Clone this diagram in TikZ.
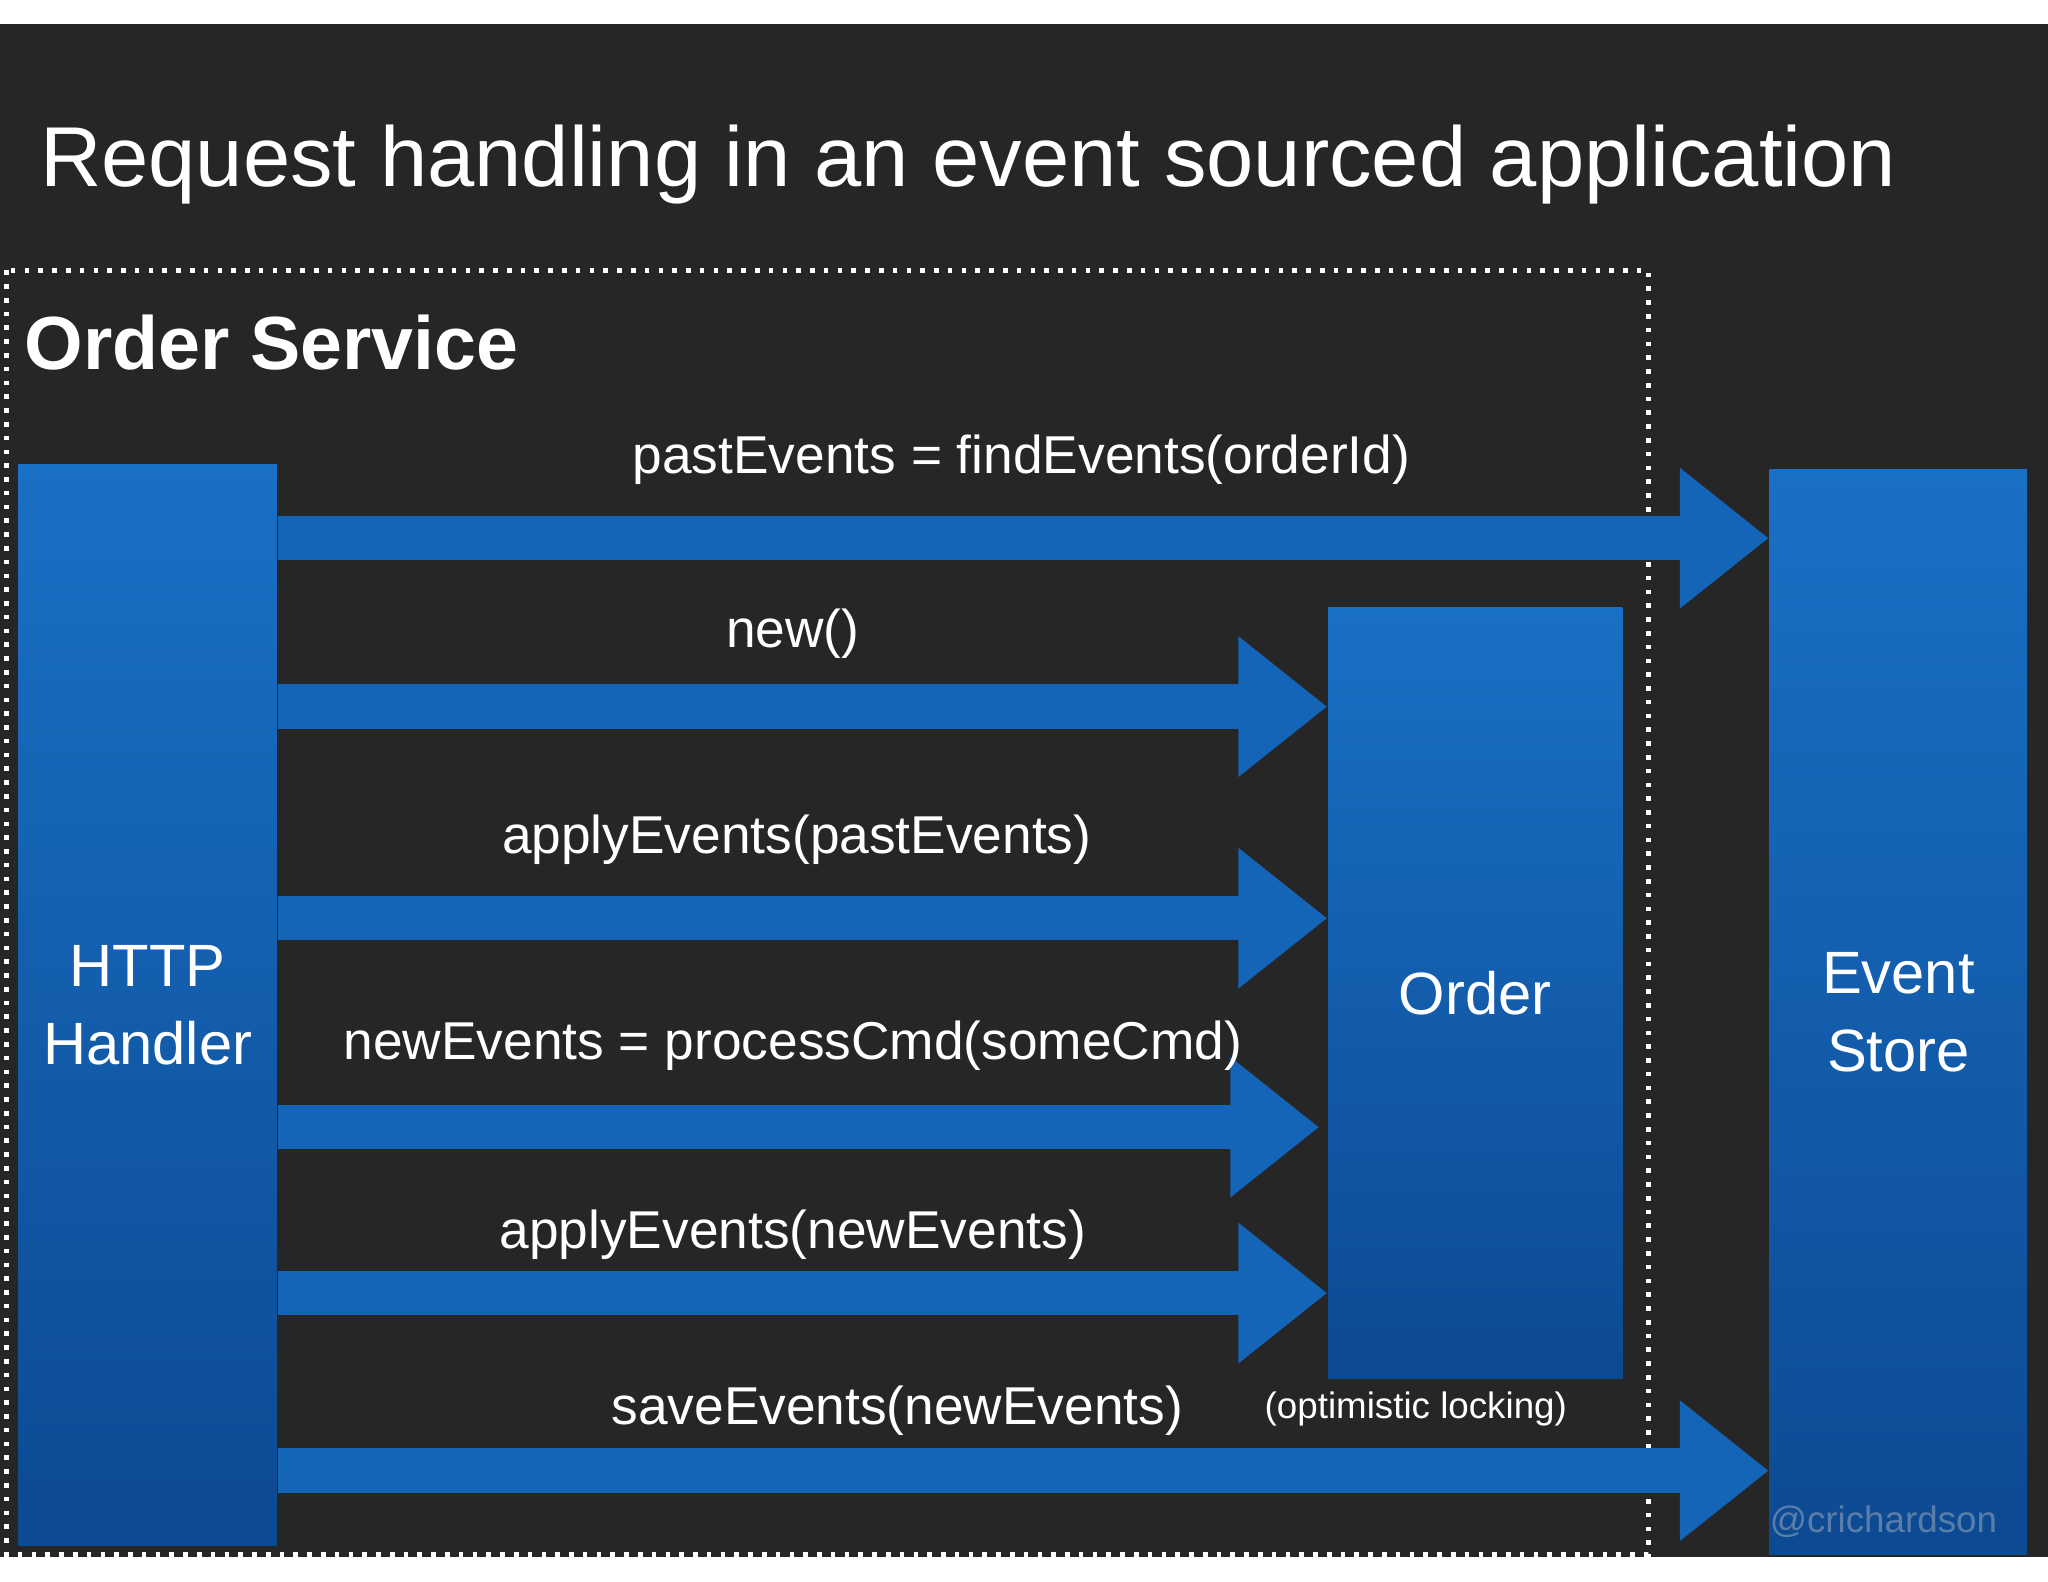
\documentclass[tikz,border=0pt]{standalone}
\usepackage{fontspec}
\setmainfont{Liberation Sans}
\usetikzlibrary{arrows.meta}
\definecolor{bg}{HTML}{262626}
\definecolor{arrc}{HTML}{1464B8}
\definecolor{btop}{HTML}{1A70C6}
\definecolor{bbot}{HTML}{0C4A92}
\definecolor{tw}{HTML}{5A7EA8}
\begin{document}
\begin{tikzpicture}[x=0.01cm,y=-0.01cm,
  box/.style={draw=none,top color=btop,bottom color=bbot,text=white,align=center,inner sep=0,font=\fontsize{13}{17}\selectfont},
  arr/.style={arrc,line width=0.34cm,-{Triangle[length=0.68cm,width=1.03cm]}},
  lbl/.style={text=white,font=\fontsize{11.6}{14}\selectfont,inner sep=0}]
\useasboundingbox (0,0) rectangle (1568,1211);
\fill[white] (0,0) rectangle (1568,1211);
\fill[bg] (0,18) rectangle (1568,1192);
\node[anchor=base west,text=white,inner sep=0,font=\fontsize{18.5}{22}\selectfont] (title) at (30,143) {Request handling in an event sourced application};
\draw[white,line width=1pt,dotted] (5,207) rectangle (1262,1190);
\node[anchor=west,text=white,inner sep=0,font=\bfseries\fontsize{16.4}{20}\selectfont] (svc) at (18,262) {Order Service};
\node[box,minimum width=1.98cm,minimum height=8.27cm] (http) at (113,769.5) {HTTP\\Handler};
\node[box,minimum width=2.25cm,minimum height=5.90cm] (order) at (1129.5,760) {Order};
\node[box,minimum width=1.97cm,minimum height=8.30cm] (store) at (1453.5,775) {Event\\Store};
\draw[arr] (http.east |- 0,412) -- (store.west |- 0,412);
\draw[arr] (http.east |- 0,541) -- (order.west |- 0,541);
\draw[arr] (http.east |- 0,703) -- (order.west |- 0,703);
\draw[arr] (http.east |- 0,863) -- (1010,863);
\draw[arr] (http.east |- 0,990) -- (order.west |- 0,990);
\draw[arr] (http.east |- 0,1126) -- (store.west |- 0,1126);
\node[lbl] (l1) at (782,352) {pastEvents = findEvents(orderId)};
\node[lbl] (l2) at (607,485) {new()};
\node[lbl] (l3) at (610,643) {applyEvents(pastEvents)};
\node[lbl] (l4) at (607,801) {newEvents = processCmd(someCmd)};
\node[lbl] (l5) at (607,945) {applyEvents(newEvents)};
\node[lbl] (l6) at (687,1080) {saveEvents(newEvents)};
\node[text=white,inner sep=0,font=\fontsize{8}{10}\selectfont] (opt) at (1084,1079) {(optimistic locking)};
\node[text=tw,inner sep=0,font=\fontsize{8}{10}\selectfont] (twn) at (1442,1165) {@crichardson};
\end{tikzpicture}
\end{document}
